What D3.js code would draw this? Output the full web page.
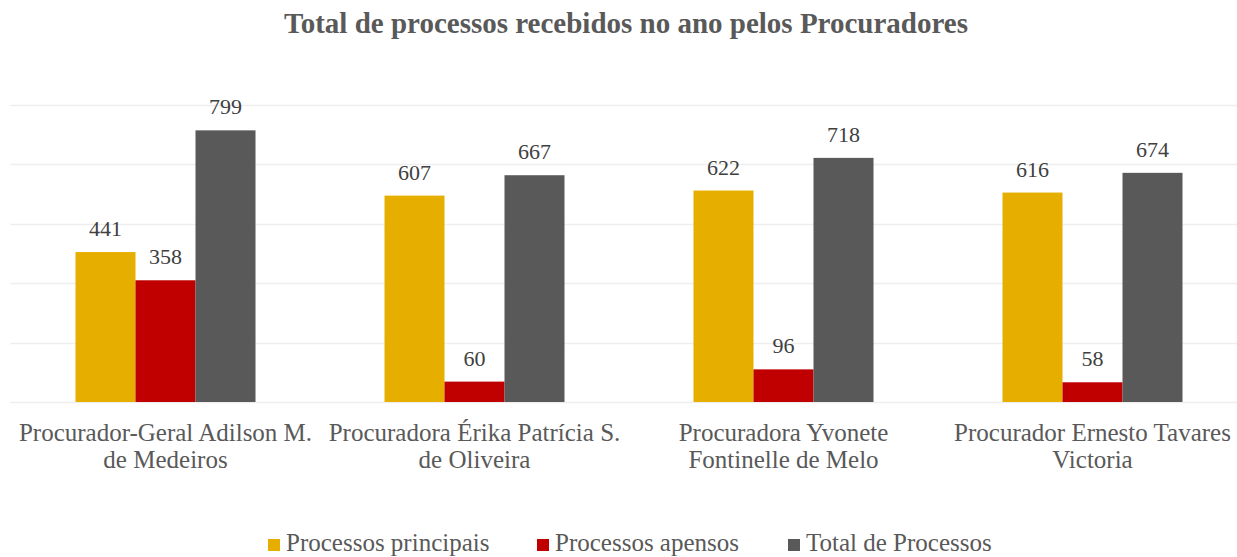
<!DOCTYPE html>
<html>
<head>
<meta charset="utf-8">
<script src="https://cdn.jsdelivr.net/npm/d3@7"></script>
<style>
  body { margin: 0; background: #fff; }
  svg { display: block; }
</style>
</head>
<body>
<svg id="chart" width="1237" height="557"></svg>
<script>
// data
var categories = [
    ["Procurador-Geral Adilson M.", "de Medeiros"],
    ["Procuradora Érika Patrícia S.", "de Oliveira"],
    ["Procuradora Yvonete", "Fontinelle de Melo"],
    ["Procurador Ernesto Tavares", "Victoria"]
];
var seriesNames = ["Processos principais", "Processos apensos", "Total de Processos"];
var principais = [441, 607, 622, 616];
var apensos = [358, 60, 96, 58];
var totais = [799, 667, 718, 674];
var gridTicks = [0, 175, 350, 525, 700, 875];
var colors = ["#E6AF00", "#C00000", "#595959"];

var width = 1237;
var height = 557;
var fontFamily = "'Liberation Serif', serif";

var svg = d3.select("#chart");

var x0 = d3.scaleBand()
    .domain(d3.range(categories.length))
    .range([11, 1247])
    .paddingInner(129 / 309)
    .paddingOuter(129 / 309 / 2);

var x1 = d3.scaleBand()
    .domain(d3.range(seriesNames.length))
    .range([0, x0.bandwidth()]);

var y = d3.scaleLinear()
    .domain([0, 875])
    .range([402, 104.5]);

// gridlines
svg.append("g")
    .selectAll("line")
    .data(gridTicks)
    .enter()
    .append("line")
    .attr("x1", 10)
    .attr("x2", width)
    .attr("y1", function (d) { return Math.round(y(d)) + 0.5; })
    .attr("y2", function (d) { return Math.round(y(d)) + 0.5; })
    .attr("stroke", "#EEEEEE")
    .attr("stroke-width", 1.5);

// bars
var allSeries = [principais, apensos, totais];
var groups = svg.append("g")
    .selectAll("g")
    .data(categories)
    .enter()
    .append("g")
    .attr("transform", function (d, i) { return "translate(" + x0(i) + ",0)"; });

groups.selectAll("rect")
    .data(function (d, i) {
        return allSeries.map(function (s, k) { return { k: k, v: s[i] }; });
    })
    .enter()
    .append("rect")
    .attr("x", function (d) { return x1(d.k); })
    .attr("width", x1.bandwidth())
    .attr("y", function (d) { return y(d.v); })
    .attr("height", function (d) { return y(0) - y(d.v); })
    .attr("fill", function (d) { return colors[d.k]; });

// value labels
groups.selectAll("text.val")
    .data(function (d, i) {
        return allSeries.map(function (s, k) { return { k: k, v: s[i] }; });
    })
    .enter()
    .append("text")
    .attr("class", "val")
    .attr("x", function (d) { return x1(d.k) + x1.bandwidth() / 2; })
    .attr("y", function (d) { return y(d.v) - 16; })
    .attr("text-anchor", "middle")
    .attr("font-family", fontFamily)
    .attr("font-size", 22)
    .attr("fill", "#404040")
    .text(function (d) { return d.v; });

// category labels
groups.each(function (lines) {
    var t = d3.select(this).append("text")
        .attr("text-anchor", "middle")
        .attr("font-family", fontFamily)
        .attr("font-size", 25)
        .attr("fill", "#595959");
    lines.forEach(function (line, j) {
        t.append("tspan")
            .attr("x", x0.bandwidth() / 2)
            .attr("y", 441 + j * 27)
            .text(line);
    });
});

// title
svg.append("text")
    .attr("x", 626)
    .attr("y", 33)
    .attr("text-anchor", "middle")
    .attr("font-family", fontFamily)
    .attr("font-weight", "bold")
    .attr("font-size", 29)
    .attr("fill", "#595959")
    .text("Total de processos recebidos no ano pelos Procuradores");

// legend
var legendX = [268, 537, 788];
var legend = svg.append("g")
    .selectAll("g")
    .data(seriesNames)
    .enter()
    .append("g")
    .attr("transform", function (d, i) { return "translate(" + legendX[i] + ",0)"; });

legend.append("rect")
    .attr("x", 0)
    .attr("y", 539)
    .attr("width", 12)
    .attr("height", 12)
    .attr("fill", function (d, i) { return colors[i]; });

legend.append("text")
    .attr("x", 18)
    .attr("y", 551)
    .attr("font-family", fontFamily)
    .attr("font-size", 25)
    .attr("fill", "#595959")
    .text(function (d) { return d; });
</script>
</body>
</html>
